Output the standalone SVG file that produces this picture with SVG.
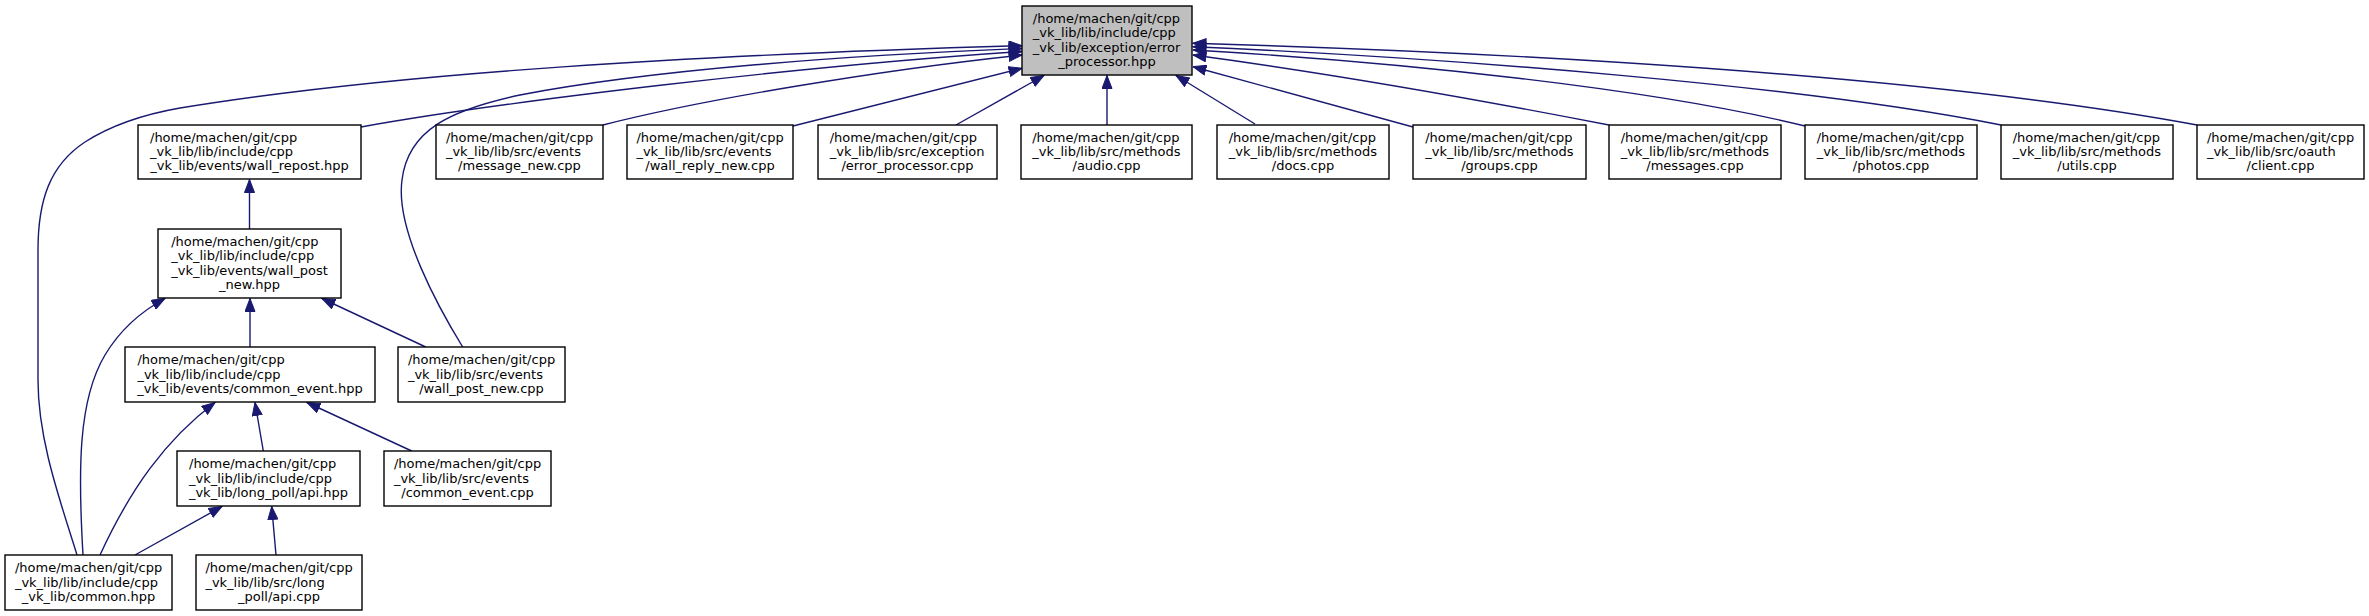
<svg xmlns="http://www.w3.org/2000/svg" width="2369" height="616" viewBox="0 0 2369 616">
<style>
.node rect{fill:#ffffff;stroke:#000000;stroke-width:1.4}
.root rect{fill:#bfbfbf}
text{font-family:"DejaVu Sans","Liberation Sans",sans-serif;font-size:13px;fill:#000000}
.c{text-anchor:middle}
.edge{fill:none;stroke:#191970;stroke-width:1.4;marker-end:url(#ah)}
</style>
<defs>
<marker id="ah" markerUnits="userSpaceOnUse" markerWidth="14" markerHeight="11" viewBox="-0.5 -0.5 14 11" refX="13" refY="5" orient="auto">
<path d="M0,0 L13,5 L0,10 Z" fill="#191970" stroke="#191970" stroke-width="1"/>
</marker>
</defs>
<rect x="0" y="0" width="2369" height="616" fill="#ffffff"/>
<g id="edges">
<path class="edge" d="M77,555 C60,500 38,440 38,380 L38,250 C38,200 50,165 85,142 C110,126 140,115 180,108 C400,72 700,55 1022,45.7"/>
<path class="edge" d="M462.7,347 C440,310 395,230 402,180 C408,130 450,110 520,95 C650,70 850,55 1022,48.5"/>
<path class="edge" d="M361,127 C500,102 800,66 1022,51.5"/>
<path class="edge" d="M603,125 C700,100 880,70 1022,55"/>
<path class="edge" d="M793,126 L1022,68.3"/>
<path class="edge" d="M956,125 L1044,75.5"/>
<path class="edge" d="M1107,125 L1107,75.5"/>
<path class="edge" d="M1255,124 L1176,75.5"/>
<path class="edge" d="M1413,127 L1193,66.7"/>
<path class="edge" d="M1609,125 C1470,98 1320,72 1193,55"/>
<path class="edge" d="M1805,126 C1650,88 1400,62 1193,50"/>
<path class="edge" d="M2001,125 C1800,85 1450,58 1193,46.7"/>
<path class="edge" d="M2197,125 C1920,74 1500,52 1193,43.3"/>
<path class="edge" d="M249.5,229 L249.5,179.5"/>
<path class="edge" d="M83,555 C78,470 78,400 105,355 C120,330 140,312 165,298.5"/>
<path class="edge" d="M250,347 L250,298.5"/>
<path class="edge" d="M425.7,347 L322,298.5"/>
<path class="edge" d="M100,555 C130,490 165,440 215,402.5"/>
<path class="edge" d="M263.3,451 L255,402.5"/>
<path class="edge" d="M411.7,451 L307,402.5"/>
<path class="edge" d="M135,555 L222,506.5"/>
<path class="edge" d="M276,555 L271.7,506.5"/>
</g>
<g id="node1" class="node root">
<rect x="1022" y="6" width="170" height="69"/>
<text x="1032.8" y="22.9">/home/machen/git/cpp</text>
<text x="1032.8" y="37.3">_vk_lib/lib/include/cpp</text>
<text x="1032.8" y="51.7">_vk_lib/exception/error</text>
<text class="c" x="1107" y="66.1">_processor.hpp</text>
</g>
<g id="node2" class="node">
<rect x="138" y="125" width="223" height="54"/>
<text x="150" y="141.6">/home/machen/git/cpp</text>
<text x="150" y="156">_vk_lib/lib/include/cpp</text>
<text class="c" x="249.5" y="170.4">_vk_lib/events/wall_repost.hpp</text>
</g>
<g id="node3" class="node">
<rect x="436" y="125" width="167" height="54"/>
<text x="445.9" y="141.6">/home/machen/git/cpp</text>
<text x="445.9" y="156">_vk_lib/lib/src/events</text>
<text class="c" x="519.5" y="170.4">/message_new.cpp</text>
</g>
<g id="node4" class="node">
<rect x="627" y="125" width="166" height="54"/>
<text x="636.4" y="141.6">/home/machen/git/cpp</text>
<text x="636.4" y="156">_vk_lib/lib/src/events</text>
<text class="c" x="710" y="170.4">/wall_reply_new.cpp</text>
</g>
<g id="node5" class="node">
<rect x="818" y="125" width="179" height="54"/>
<text x="829.7" y="141.6">/home/machen/git/cpp</text>
<text x="829.7" y="156">_vk_lib/lib/src/exception</text>
<text class="c" x="907.5" y="170.4">/error_processor.cpp</text>
</g>
<g id="node6" class="node">
<rect x="1021" y="125" width="171" height="54"/>
<text x="1032.2" y="141.6">/home/machen/git/cpp</text>
<text x="1032.2" y="156">_vk_lib/lib/src/methods</text>
<text class="c" x="1106.5" y="170.4">/audio.cpp</text>
</g>
<g id="node7" class="node">
<rect x="1217" y="125" width="172" height="54"/>
<text x="1228.7" y="141.6">/home/machen/git/cpp</text>
<text x="1228.7" y="156">_vk_lib/lib/src/methods</text>
<text class="c" x="1303" y="170.4">/docs.cpp</text>
</g>
<g id="node8" class="node">
<rect x="1413" y="125" width="173" height="54"/>
<text x="1425.2" y="141.6">/home/machen/git/cpp</text>
<text x="1425.2" y="156">_vk_lib/lib/src/methods</text>
<text class="c" x="1499.5" y="170.4">/groups.cpp</text>
</g>
<g id="node9" class="node">
<rect x="1609" y="125" width="172" height="54"/>
<text x="1620.7" y="141.6">/home/machen/git/cpp</text>
<text x="1620.7" y="156">_vk_lib/lib/src/methods</text>
<text class="c" x="1695" y="170.4">/messages.cpp</text>
</g>
<g id="node10" class="node">
<rect x="1805" y="125" width="172" height="54"/>
<text x="1816.7" y="141.6">/home/machen/git/cpp</text>
<text x="1816.7" y="156">_vk_lib/lib/src/methods</text>
<text class="c" x="1891" y="170.4">/photos.cpp</text>
</g>
<g id="node11" class="node">
<rect x="2001" y="125" width="172" height="54"/>
<text x="2012.7" y="141.6">/home/machen/git/cpp</text>
<text x="2012.7" y="156">_vk_lib/lib/src/methods</text>
<text class="c" x="2087" y="170.4">/utils.cpp</text>
</g>
<g id="node12" class="node">
<rect x="2197" y="125" width="167" height="54"/>
<text x="2206.9" y="141.6">/home/machen/git/cpp</text>
<text x="2206.9" y="156">_vk_lib/lib/src/oauth</text>
<text class="c" x="2280.5" y="170.4">/client.cpp</text>
</g>
<g id="node13" class="node">
<rect x="158" y="229" width="183" height="69"/>
<text x="171.2" y="245.9">/home/machen/git/cpp</text>
<text x="171.2" y="260.3">_vk_lib/lib/include/cpp</text>
<text x="171.2" y="274.7">_vk_lib/events/wall_post</text>
<text class="c" x="249.5" y="289.1">_new.hpp</text>
</g>
<g id="node14" class="node">
<rect x="398" y="347" width="167" height="55"/>
<text x="407.9" y="364.1">/home/machen/git/cpp</text>
<text x="407.9" y="378.5">_vk_lib/lib/src/events</text>
<text class="c" x="481.5" y="392.9">/wall_post_new.cpp</text>
</g>
<g id="node15" class="node">
<rect x="125" y="347" width="250" height="55"/>
<text x="137.4" y="364.1">/home/machen/git/cpp</text>
<text x="137.4" y="378.5">_vk_lib/lib/include/cpp</text>
<text class="c" x="250" y="392.9">_vk_lib/events/common_event.hpp</text>
</g>
<g id="node16" class="node">
<rect x="177" y="451" width="183" height="55"/>
<text x="189" y="468.1">/home/machen/git/cpp</text>
<text x="189" y="482.5">_vk_lib/lib/include/cpp</text>
<text class="c" x="268.5" y="496.9">_vk_lib/long_poll/api.hpp</text>
</g>
<g id="node17" class="node">
<rect x="384" y="451" width="167" height="55"/>
<text x="393.9" y="468.1">/home/machen/git/cpp</text>
<text x="393.9" y="482.5">_vk_lib/lib/src/events</text>
<text class="c" x="467.5" y="496.9">/common_event.cpp</text>
</g>
<g id="node18" class="node">
<rect x="5" y="555" width="167" height="55"/>
<text x="14.9" y="572.1">/home/machen/git/cpp</text>
<text x="14.9" y="586.5">_vk_lib/lib/include/cpp</text>
<text class="c" x="88.5" y="600.9">_vk_lib/common.hpp</text>
</g>
<g id="node19" class="node">
<rect x="196" y="555" width="166" height="55"/>
<text x="205.4" y="572.1">/home/machen/git/cpp</text>
<text x="205.4" y="586.5">_vk_lib/lib/src/long</text>
<text class="c" x="279" y="600.9">_poll/api.cpp</text>
</g>
</svg>
